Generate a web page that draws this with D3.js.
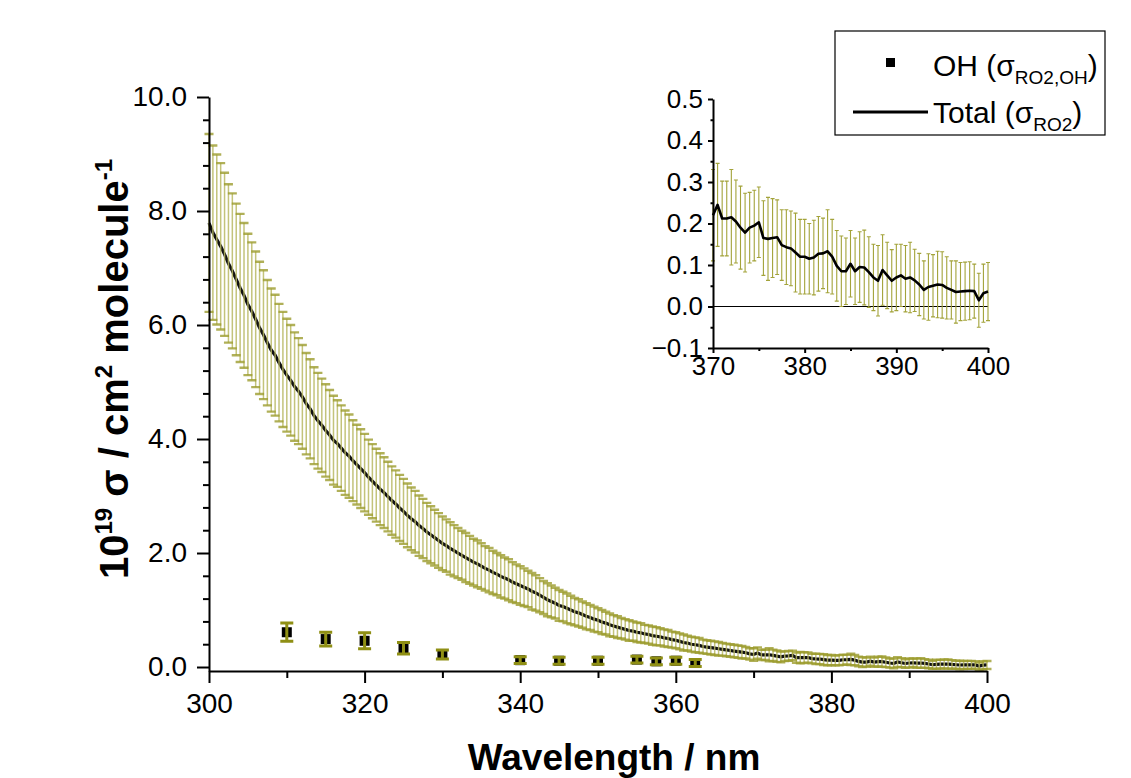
<!DOCTYPE html>
<html>
<head>
<meta charset="utf-8">
<script src="https://cdn.jsdelivr.net/npm/d3@7"></script>
<style>
  body { margin: 0; background: #fff; }
  svg { display: block; font-family: "Liberation Sans", Arial, sans-serif; }
</style>
</head>
<body>
<svg id="plot" width="1131" height="778"></svg>
<script>
// total cross section, 300 - 400 nm every 0.5 nm (10^19 cm2 molecule-1)
const waveStart = 300;
const waveStep = 0.5;
const sigmaTotal = [
  7.79,7.62,7.50,7.38,7.24,7.08,6.95,6.80,6.65,6.52,6.36,6.24,6.10,5.95,5.83,5.69,5.56,5.47,5.34,5.22,
  5.12,5.03,4.92,4.84,4.74,4.62,4.53,4.41,4.32,4.24,4.15,4.07,3.98,3.92,3.84,3.76,3.70,3.62,3.55,3.48,
  3.41,3.33,3.26,3.19,3.12,3.06,2.99,2.92,2.86,2.79,2.73,2.66,2.60,2.55,2.48,2.43,2.37,2.32,2.27,2.22,
  2.17,2.13,2.08,2.04,2.00,1.96,1.92,1.88,1.84,1.81,1.77,1.73,1.70,1.66,1.63,1.59,1.56,1.53,1.49,1.46,
  1.43,1.40,1.37,1.33,1.30,1.26,1.22,1.18,1.15,1.12,1.08,1.06,1.03,1.00,0.97,0.95,0.92,0.89,0.87,0.84,
  0.82,0.79,0.77,0.74,0.72,0.70,0.68,0.66,0.64,0.63,0.61,0.60,0.58,0.57,0.55,0.54,0.53,0.51,0.50,0.48,
  0.47,0.45,0.43,0.42,0.40,0.39,0.38,0.36,0.35,0.34,0.33,0.32,0.31,0.30,0.29,0.28,0.27,0.26,0.25,0.23,
  0.220,0.245,0.212,0.212,0.215,0.205,0.190,0.178,0.190,0.195,0.203,0.165,0.163,0.165,0.167,0.148,0.143,0.140,0.130,0.120,
  0.120,0.115,0.118,0.127,0.128,0.133,0.120,0.098,0.085,0.085,0.103,0.085,0.095,0.094,0.083,0.070,0.062,0.088,0.075,0.062,
  0.070,0.075,0.067,0.070,0.063,0.053,0.040,0.047,0.050,0.053,0.052,0.045,0.040,0.035,0.036,0.037,0.038,0.037,0.015,0.032,
  0.036
];
const sigmaTotalErr = [
  1.56,1.53,1.49,1.46,1.43,1.39,1.36,1.33,1.30,1.27,1.24,1.21,1.19,1.16,1.13,1.10,1.08,1.06,1.03,1.01,
  0.99,0.97,0.95,0.93,0.91,0.89,0.87,0.85,0.84,0.82,0.81,0.79,0.78,0.76,0.75,0.74,0.73,0.71,0.70,0.69,
  0.68,0.66,0.65,0.64,0.63,0.62,0.61,0.60,0.59,0.58,0.57,0.56,0.55,0.54,0.53,0.52,0.51,0.50,0.49,0.48,
  0.47,0.46,0.46,0.45,0.44,0.43,0.43,0.42,0.41,0.41,0.40,0.39,0.39,0.38,0.37,0.37,0.36,0.36,0.35,0.34,
  0.34,0.33,0.32,0.32,0.31,0.30,0.29,0.29,0.28,0.27,0.27,0.26,0.26,0.25,0.24,0.24,0.23,0.23,0.22,0.22,
  0.21,0.21,0.20,0.20,0.19,0.19,0.18,0.18,0.18,0.17,0.17,0.17,0.16,0.16,0.16,0.16,0.15,0.15,0.15,0.14,
  0.14,0.14,0.14,0.13,0.13,0.13,0.13,0.12,0.12,0.12,0.12,0.12,0.11,0.11,0.11,0.11,0.11,0.11,0.10,0.10,
  0.110,0.100,0.090,0.090,0.115,0.100,0.100,0.095,0.085,0.085,0.085,0.090,0.100,0.095,0.090,0.085,0.090,0.090,0.095,0.090,
  0.090,0.085,0.090,0.090,0.085,0.100,0.090,0.085,0.085,0.080,0.080,0.080,0.085,0.090,0.085,0.080,0.085,0.085,0.080,0.075,
  0.080,0.075,0.080,0.085,0.075,0.075,0.070,0.080,0.075,0.080,0.080,0.075,0.070,0.075,0.070,0.070,0.070,0.065,0.065,0.070,
  0.070
];

// OH channel
const ohWavelength = [310, 315, 320, 325, 330, 340, 345, 350, 355, 357.5, 360, 362.5];
const ohSigma      = [0.61, 0.49, 0.46, 0.33, 0.22, 0.12, 0.11, 0.11, 0.13, 0.10, 0.11, 0.07];
const ohErr        = [0.16, 0.12, 0.14, 0.10, 0.08, 0.06, 0.06, 0.06, 0.06, 0.06, 0.06, 0.06];

const mainXTicks = [300, 320, 340, 360, 380, 400];
const mainYTicks = [0, 2, 4, 6, 8, 10];
const insetXTicks = [370, 380, 390, 400];
const insetYTicks = [-0.1, 0, 0.1, 0.2, 0.3, 0.4, 0.5];

const olive = "#9c9c2e";
const oliveLight = "#b9b964";
const font = "'Liberation Sans', Arial, sans-serif";

const totalData = sigmaTotal.map((v, i) => ({
  wl: waveStart + i * waveStep, value: v, err: sigmaTotalErr[i]
}));
const ohData = ohWavelength.map((w, i) => ({ wl: w, value: ohSigma[i], err: ohErr[i] }));

const svg = d3.select("#plot");

// ---------- main plot ----------
const xScale = d3.scaleLinear().domain([300, 400]).range([209, 987]);
const yScale = d3.scaleLinear().domain([-0.07, 10]).range([671, 97]);

const line = d3.line()
  .x(d => xScale(d.wl))
  .y(d => yScale(d.value))
  .curve(d3.curveLinear);

svg.append("path")
  .datum(totalData)
  .attr("fill", "none")
  .attr("stroke", "#111")
  .attr("stroke-width", 3.2)
  .attr("d", line);

// error bars on top of the line
const capW = 4.5;
svg.append("g")
  .selectAll("line")
  .data(totalData)
  .join("line")
  .attr("x1", d => xScale(d.wl))
  .attr("x2", d => xScale(d.wl))
  .attr("y1", d => yScale(d.value + d.err))
  .attr("y2", d => yScale(d.value - d.err))
  .attr("stroke", oliveLight)
  .attr("stroke-opacity", 0.85)
  .attr("stroke-width", 1.5);

svg.append("g")
  .selectAll("path")
  .data(totalData)
  .join("path")
  .attr("d", d => {
    const x = xScale(d.wl);
    const yt = yScale(d.value + d.err), yb = yScale(d.value - d.err);
    return `M${x - capW},${yt}H${x + capW}M${x - capW},${yb}H${x + capW}`;
  })
  .attr("stroke", olive)
  .attr("stroke-opacity", 0.8)
  .attr("stroke-width", 2.4)
  .attr("fill", "none");

// OH points
svg.append("g")
  .selectAll("rect")
  .data(ohData)
  .join("rect")
  .attr("x", d => xScale(d.wl) - 5)
  .attr("y", d => yScale(d.value) - 5)
  .attr("width", 10)
  .attr("height", 10)
  .attr("fill", "#000");

svg.append("g")
  .selectAll("path")
  .data(ohData)
  .join("path")
  .attr("d", d => {
    const x = xScale(d.wl);
    const yt = yScale(d.value + d.err), yb = yScale(d.value - d.err);
    return `M${x - 6.5},${yt}H${x + 6.5}M${x},${yt}V${yb}M${x - 6.5},${yb}H${x + 6.5}`;
  })
  .attr("stroke", "#8f8f14")
  .attr("stroke-width", 3)
  .attr("fill", "none");

// axes
function styleAxis(g, size) {
  g.selectAll("path.domain").attr("stroke", "#000").attr("stroke-width", 2);
  g.selectAll(".tick line").attr("stroke", "#000").attr("stroke-width", 2);
  g.selectAll(".tick text").attr("font-size", size).attr("font-family", font).attr("fill", "#000");
}

svg.append("g")
  .attr("transform", "translate(0, 671)")
  .call(d3.axisBottom(xScale).tickValues(d3.range(310, 400, 20)).tickSize(7).tickSizeOuter(0).tickFormat(""))
  .call(g => g.select(".domain").remove())
  .call(g => styleAxis(g, 28));
svg.append("g")
  .attr("transform", "translate(0, 671)")
  .call(d3.axisBottom(xScale).tickValues(mainXTicks).tickSize(12).tickSizeOuter(0).tickPadding(10).tickFormat(d3.format("d")))
  .call(g => styleAxis(g, 28));

svg.append("g")
  .attr("transform", "translate(209, 0)")
  .call(d3.axisLeft(yScale).tickValues(d3.range(0.4, 10, 0.4).filter(v => Math.abs(v / 2 - Math.round(v / 2)) > 0.01)).tickSize(6).tickSizeOuter(0).tickFormat(""))
  .call(g => g.select(".domain").remove())
  .call(g => styleAxis(g, 28));
svg.append("g")
  .attr("transform", "translate(209, 0)")
  .call(d3.axisLeft(yScale).tickValues(mainYTicks).tickSize(12).tickSizeOuter(0).tickPadding(10).tickFormat(d3.format(".1f")))
  .call(g => styleAxis(g, 28));

// axis titles
svg.append("text")
  .attr("x", 614)
  .attr("y", 770)
  .attr("text-anchor", "middle")
  .attr("font-family", font)
  .attr("font-weight", "bold")
  .attr("font-size", 37)
  .text("Wavelength / nm");

const yTitle = svg.append("text")
  .attr("transform", "translate(128, 369) rotate(-90)")
  .attr("text-anchor", "middle")
  .attr("font-family", font)
  .attr("font-weight", "bold")
  .attr("font-size", 40);
yTitle.append("tspan").text("10");
yTitle.append("tspan").attr("font-size", 24).attr("dy", -16).text("19");
yTitle.append("tspan").attr("dy", 16).text(" \u03c3 / cm");
yTitle.append("tspan").attr("font-size", 24).attr("dy", -16).text("2");
yTitle.append("tspan").attr("dy", 16).text(" molecule");
yTitle.append("tspan").attr("font-size", 24).attr("dy", -16).text("-1");

// ---------- inset ----------
const insetX = d3.scaleLinear().domain([370, 400]).range([713, 988]);
const insetY = d3.scaleLinear().domain([-0.1, 0.5]).range([348, 99]);
const insetData = totalData.filter(d => d.wl >= 370);

svg.append("line")
  .attr("x1", insetX(370)).attr("x2", insetX(400))
  .attr("y1", insetY(0)).attr("y2", insetY(0))
  .attr("stroke", "#000").attr("stroke-width", 1.2);

svg.append("g")
  .selectAll("path")
  .data(insetData)
  .join("path")
  .attr("d", d => {
    const x = insetX(d.wl);
    const yt = insetY(d.value + d.err), yb = insetY(d.value - d.err);
    return `M${x - 2},${yt}H${x + 2}M${x},${yt}V${yb}M${x - 2},${yb}H${x + 2}`;
  })
  .attr("stroke", "#a3a33a")
  .attr("stroke-width", 1.1)
  .attr("fill", "none");

svg.append("path")
  .datum(insetData)
  .attr("fill", "none")
  .attr("stroke", "#000")
  .attr("stroke-width", 2.6)
  .attr("stroke-linejoin", "round")
  .attr("d", d3.line().x(d => insetX(d.wl)).y(d => insetY(d.value)));

svg.append("g")
  .attr("transform", "translate(0, 348)")
  .call(d3.axisBottom(insetX).tickValues([375, 385, 395]).tickSize(3).tickSizeOuter(0).tickFormat(""))
  .call(g => g.select(".domain").remove())
  .call(g => styleAxis(g, 26));
svg.append("g")
  .attr("transform", "translate(0, 348)")
  .call(d3.axisBottom(insetX).tickValues(insetXTicks).tickSize(5).tickSizeOuter(0).tickPadding(4).tickFormat(d3.format("d")))
  .call(g => styleAxis(g, 26));

svg.append("g")
  .attr("transform", "translate(713, 0)")
  .call(d3.axisLeft(insetY).tickValues([-0.05, 0.05, 0.15, 0.25, 0.35, 0.45]).tickSize(2.5).tickSizeOuter(0).tickFormat(""))
  .call(g => g.select(".domain").remove())
  .call(g => styleAxis(g, 26));
svg.append("g")
  .attr("transform", "translate(713, 0)")
  .call(d3.axisLeft(insetY).tickValues(insetYTicks).tickSize(5).tickSizeOuter(0).tickPadding(5).tickFormat(d3.format(".1f")))
  .call(g => styleAxis(g, 26));

// ---------- legend ----------
const legend = svg.append("g");
legend.append("rect")
  .attr("x", 835).attr("y", 31).attr("width", 270).attr("height", 104)
  .attr("fill", "#fff").attr("stroke", "#000").attr("stroke-width", 1.2);
legend.append("rect")
  .attr("x", 886).attr("y", 58).attr("width", 9).attr("height", 9).attr("fill", "#000");
legend.append("line")
  .attr("x1", 853).attr("x2", 928).attr("y1", 112).attr("y2", 112)
  .attr("stroke", "#000").attr("stroke-width", 3);

const legendLabels = [
  { y: 76, main: "OH (\u03c3", sub: "RO2,OH" },
  { y: 123, main: "Total (\u03c3", sub: "RO2" }
];
legend.selectAll("text")
  .data(legendLabels)
  .join("text")
  .attr("x", 933)
  .attr("y", d => d.y)
  .attr("font-family", font)
  .attr("font-size", 30)
  .each(function(d) {
    const t = d3.select(this);
    t.append("tspan").text(d.main);
    t.append("tspan").attr("font-size", 19).attr("dy", 8).text(d.sub);
    t.append("tspan").attr("dy", -8).text(")");
  });
</script>
</body>
</html>
